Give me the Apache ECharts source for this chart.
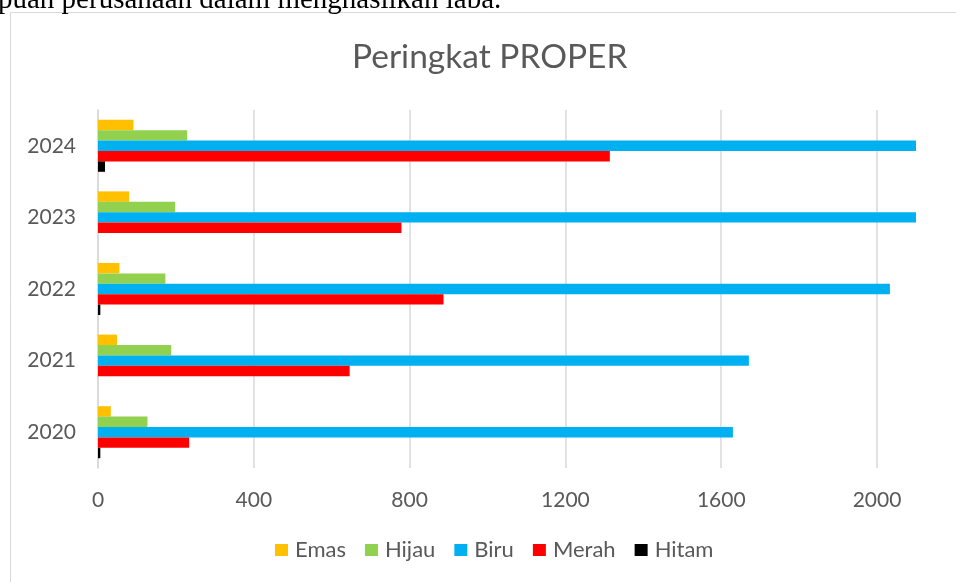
<!DOCTYPE html>
<html>
<head>
<meta charset="utf-8">
<script src="https://cdn.jsdelivr.net/npm/echarts@6/dist/echarts.min.js"></script>
<style>
html,body{margin:0;padding:0;background:#fff;}
#c{width:956px;height:582px;}
</style>
</head>
<body>
<div id="c"></div>
<script>
const years = ['2020', '2021', '2022', '2023', '2024'];
const emas  = [33, 49, 55, 80, 91];
const hijau = [127, 188, 173, 198, 229];
const biru  = [1630, 1671, 2033, 2100, 2100];
const merah = [234, 646, 887, 779, 1314];
const hitam = [6, 0, 6, 0, 18];
const xTicks = { min: 0, max: 2100, interval: 400 };
const titleText = 'Peringkat PROPER';
const topText = 'puan perusahaan dalam menghasilkan laba.';

const chart = echarts.init(document.getElementById('c'));
const mk = (name, data, color) => ({
  name, type: 'bar', data, barWidth: 10.4, barGap: '0%',
  itemStyle: { color }, clip: true
});
chart.setOption({
  backgroundColor: '#fff',
  animation: false,
  title: {
    text: titleText, left: 347, top: 35,
    textStyle: { fontFamily: 'Lato', fontSize: 33.5, fontWeight: 'normal', color: '#595959' }
  },
  graphic: [
    { type: 'rect', shape: { x: 10.5, y: 12.5, width: 1200, height: 1200 },
      style: { fill: 'none', stroke: '#d9d9d9', lineWidth: 1 }, z: -1 },
    { type: 'text', left: -2, top: -14,
      style: { text: topText, font: '29px "Liberation Serif"', fill: '#000' } }
  ],
  legend: {
    bottom: 16, left: 270, itemWidth: 13, itemHeight: 12, itemGap: 19,
    icon: 'rect',
    textStyle: { fontFamily: 'Lato', fontSize: 22, color: '#595959', padding: [0, 0, 0, 2] },
    data: ['Emas', 'Hijau', 'Biru', 'Merah', 'Hitam']
  },
  grid: { left: 98, right: 40, top: 110, bottom: 114, containLabel: false },
  xAxis: {
    type: 'value', min: xTicks.min, max: xTicks.max, interval: xTicks.interval,
    axisLine: { show: false }, axisTick: { show: false },
    axisLabel: { fontFamily: 'Lato', fontSize: 21, color: '#595959', margin: 22, showMaxLabel: false,
      formatter: v => String(v) },
    splitLine: { show: true, showMaxLine: false, lineStyle: { color: '#d9d9d9', width: 1.5 } }
  },
  yAxis: {
    type: 'category', data: years, inverse: false,
    axisLine: { show: true, lineStyle: { color: '#d9d9d9', width: 1.5 } },
    axisTick: { show: false },
    axisLabel: { fontFamily: 'Lato', fontSize: 21, color: '#595959', margin: 22 }
  },
  series: [
    mk('Emas', emas, '#FFC000'),
    mk('Hijau', hijau, '#92D050'),
    mk('Biru', biru, '#00B0F0'),
    mk('Merah', merah, '#FF0000'),
    mk('Hitam', hitam, '#000000')
  ]
});
</script>
</body>
</html>
